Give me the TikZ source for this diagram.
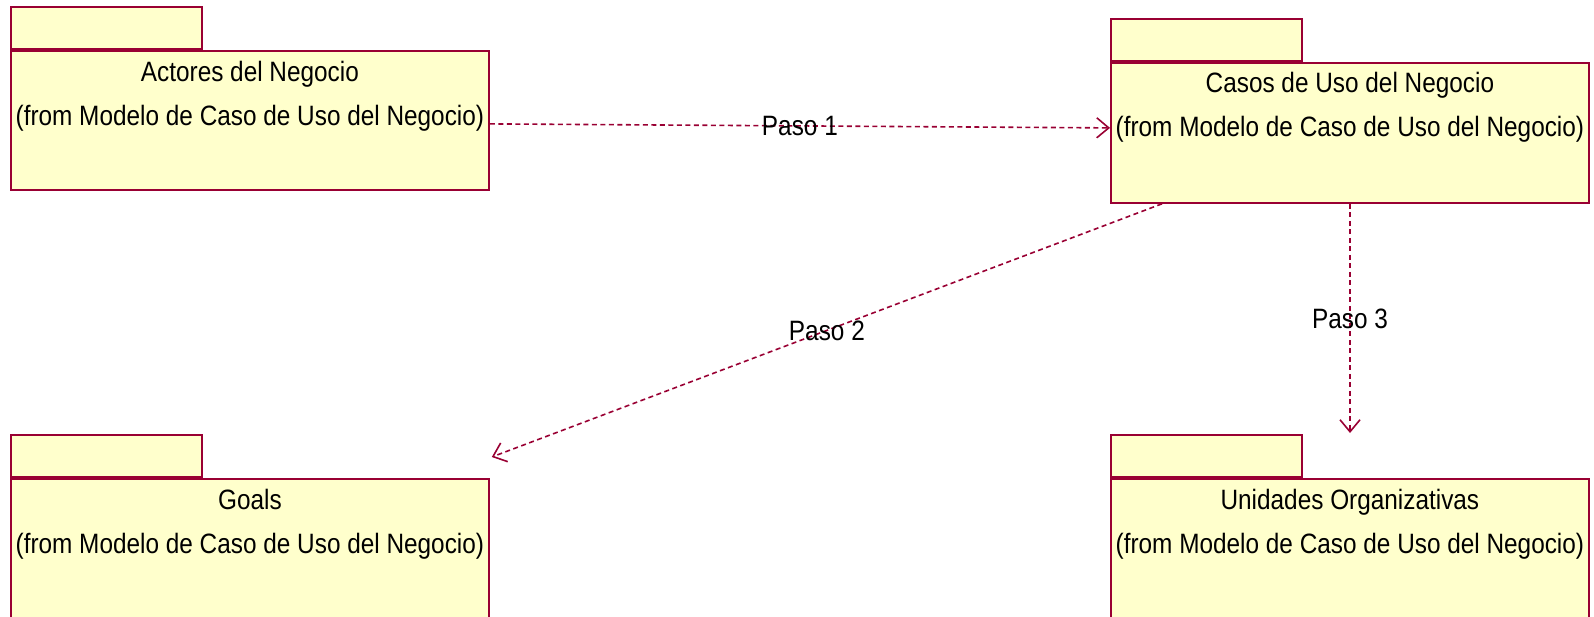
\documentclass[tikz,border=0pt]{standalone}
\usepackage{fontspec}
\setmainfont{Liberation Sans}[FakeStretch=0.87]
\usetikzlibrary{arrows.meta,positioning,calc}
\definecolor{roseline}{RGB}{153,0,51}
\definecolor{rosefill}{RGB}{255,255,204}
\tikzset{
  pkgbody/.style={draw=roseline,fill=rosefill,line width=1.8pt,minimum width=478pt,
    minimum height=139pt,inner sep=0pt,anchor=north west},
  pkgtab/.style={draw=roseline,fill=rosefill,line width=1.8pt,minimum width=191pt,
    minimum height=42pt,inner sep=0pt,anchor=south west},
  pkgtext/.style={font=\fontsize{28}{44}\selectfont,align=center,anchor=north,inner sep=0pt},
  depline/.style={draw=roseline,line width=1.6pt,dash pattern=on 5pt off 3.5pt,
    -{Straight Barb[length=12pt,width=20pt]}},
  steplabel/.style={font=\fontsize{28}{30}\selectfont,inner sep=0pt}
}
\begin{document}
\begin{tikzpicture}[x=1pt,y=-1pt]
\useasboundingbox (0,0) rectangle (1594,617);
% packages
\node[pkgbody] (actores) at (10,50) {};
\node[pkgtab] (actores-tab) at (actores.north west) {};
\node[pkgtext] (actores-txt) at ([yshift=-11pt]actores.north) {Actores del Negocio\\(from Modelo de Caso de Uso del Negocio)};
\node[pkgbody,minimum height=140pt] (casos) at (1110,62) {};
\node[pkgtab] (casos-tab) at (casos.north west) {};
\node[pkgtext] (casos-txt) at ([yshift=-10pt]casos.north) {Casos de Uso del Negocio\\(from Modelo de Caso de Uso del Negocio)};
\node[pkgbody] (goals) at (10,478) {};
\node[pkgtab] (goals-tab) at (goals.north west) {};
\node[pkgtext] (goals-txt) at ([yshift=-11pt]goals.north) {Goals\\(from Modelo de Caso de Uso del Negocio)};
\node[pkgbody] (unidades) at (1110,478) {};
\node[pkgtab] (unidades-tab) at (unidades.north west) {};
\node[pkgtext] (unidades-txt) at ([yshift=-11pt]unidades.north) {Unidades Organizativas\\(from Modelo de Caso de Uso del Negocio)};
% dependencies
\draw[depline] ([yshift=-3.5pt]actores.east) -- node[steplabel] (paso1) {Paso 1} ([yshift=5pt]casos.west);
\coordinate (p2end) at ($(goals.north east)+(2,-21)$);
\draw[depline] ($(casos.south west)+(52,0)$) -- node[steplabel] (paso2) {Paso 2} (p2end);
\coordinate (p3end) at ($(unidades.north west)+(240,-45)$);
\draw[depline] ($(casos.south west)+(240,0)$) -- node[steplabel] (paso3) {Paso 3} (p3end);
\end{tikzpicture}
\end{document}
